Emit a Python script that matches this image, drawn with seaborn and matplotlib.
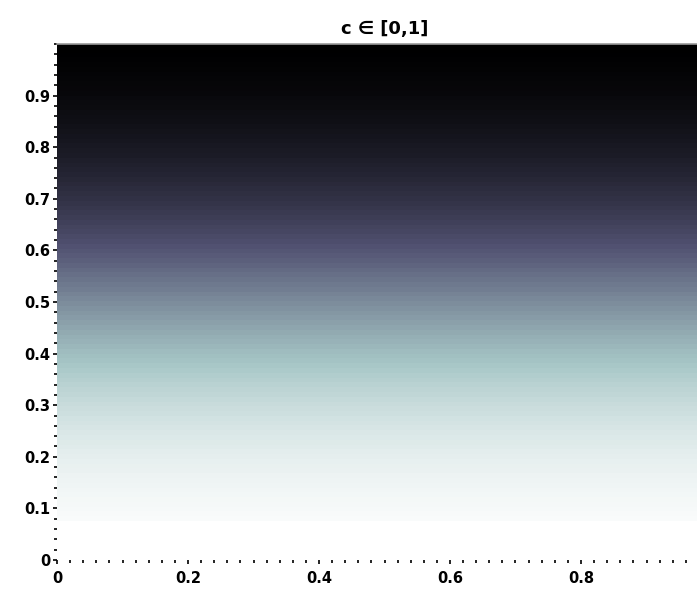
import numpy as np
import matplotlib
matplotlib.use("Agg")
import matplotlib.pyplot as plt
from matplotlib.colors import FuncNorm
from matplotlib.ticker import MultipleLocator, FixedLocator, FixedFormatter
import seaborn as sns

# data
c_range = [0.0, 1.0]               # value range of the colour scale
band_bottom = 0.075                # lower edge of the gradient band
band_top = 1.0
n_levels = 100
x_ticks = [0, 0.2, 0.4, 0.6, 0.8]
x_labels = ["0", "0.2", "0.4", "0.6", "0.8"]
y_ticks = [0, 0.1, 0.2, 0.3, 0.4, 0.5, 0.6, 0.7, 0.8, 0.9]
y_labels = ["0", "0.1", "0.2", "0.3", "0.4", "0.5", "0.6", "0.7", "0.8", "0.9"]
title = "c ∈ [0,1]"

sns.set_theme(style="white")
plt.rcParams["font.family"] = ["DejaVu Sans"]

cmap = sns.color_palette("bone_r", as_cmap=True)

# S-shaped colour-scale stretch (style of the colour mapping)
K, MID = 6.5, 0.535
def _fwd(v):
    return 1.0 / (1.0 + np.exp(-K * (np.asarray(v, dtype=float) - MID)))
def _inv(u):
    u = np.clip(np.asarray(u, dtype=float), 1e-9, 1 - 1e-9)
    return MID + np.log(u / (1 - u)) / K
norm = FuncNorm((_fwd, _inv), vmin=c_range[0], vmax=c_range[1])

fig = plt.figure(figsize=(6.97, 5.90), dpi=100)
W, H = 697, 590
x0, x1 = 57, 712
y_top, y_bot = 44, 560
ax = fig.add_axes([x0 / W, (H - y_bot) / H, (x1 - x0) / W, (y_bot - y_top) / H])

levels = np.linspace(band_bottom, band_top, n_levels).reshape(-1, 1)
ax.imshow(levels, cmap=cmap, norm=norm, origin="lower",
          extent=[0, 1, band_bottom, band_top], aspect="auto", interpolation="nearest")
ax.set_xlim(0, 1)
ax.set_ylim(0, 1)

ax.xaxis.set_major_locator(FixedLocator(x_ticks))
ax.xaxis.set_major_formatter(FixedFormatter(x_labels))
ax.yaxis.set_major_locator(FixedLocator(y_ticks))
ax.yaxis.set_major_formatter(FixedFormatter(y_labels))
ax.xaxis.set_minor_locator(MultipleLocator(0.02))
ax.yaxis.set_minor_locator(MultipleLocator(0.02))

ax.tick_params(axis="both", which="both", direction="out", color="black",
               bottom=True, left=True, top=False, right=False)
ax.tick_params(axis="both", which="major", length=3, width=1.2, labelsize=10.5,
               pad=2, labelcolor="black")
ax.tick_params(axis="x", which="major", pad=5)
ax.tick_params(axis="both", which="minor", length=2.5, width=1.2)
for lab in ax.get_xticklabels() + ax.get_yticklabels():
    lab.set_fontweight("bold")

for s in ["left", "bottom", "right"]:
    ax.spines[s].set_visible(False)
ax.spines["top"].set_color("#999999")
ax.spines["top"].set_linewidth(1.2)

ax.set_title(title, fontsize=13, fontweight="bold", color="black", pad=7)

fig.savefig("out.png", dpi=100)
